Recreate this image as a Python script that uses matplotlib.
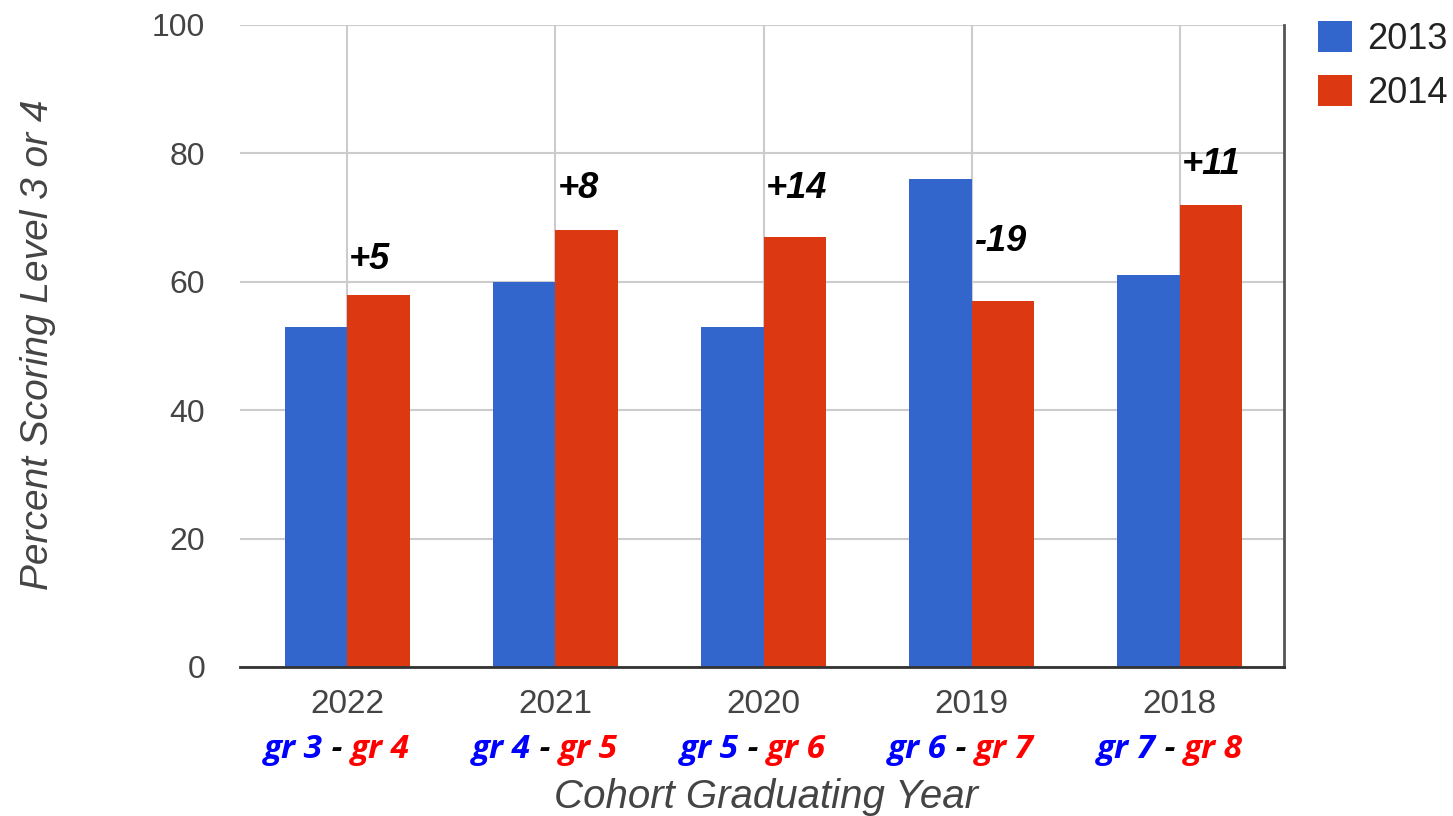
import numpy as np
import matplotlib
matplotlib.use('Agg')
from matplotlib import pyplot as plt
from matplotlib import transforms

# data
cohorts = ['2022', '2021', '2020', '2019', '2018']
grade_2013 = ['gr 3', 'gr 4', 'gr 5', 'gr 6', 'gr 7']
grade_2014 = ['gr 4', 'gr 5', 'gr 6', 'gr 7', 'gr 8']
pct_2013 = [53, 60, 53, 76, 61]
pct_2014 = [58, 68, 67, 57, 72]
changes = ['+5', '+8', '+14', '-19', '+11']

# where the change labels sit above the 2014 bar (data units)
label_lift = [5.4, 6.6, 7.6, 9.2, 6.2]

blue = '#3366CC'
red = '#DC3912'
grey = '#444444'

plt.rcParams['font.family'] = ['Liberation Sans', 'DejaVu Sans']

fig = plt.figure(figsize=(14.53, 8.16), dpi=100)
ax = fig.add_axes([240/1453, 1-667/816, (1284-240)/1453, (667-25)/816])

x = np.arange(len(cohorts))
w = 0.3
ax.bar(x - w/2, pct_2013, w, color=blue, label='2013', zorder=3)
ax.bar(x + w/2, pct_2014, w, color=red, label='2014', zorder=3)

ax.set_xlim(-0.515, 4.5)
ax.set_ylim(0, 100)
ax.set_yticks([0, 20, 40, 60, 80, 100])
ax.set_xticks(x)
ax.set_xticklabels(cohorts)
ax.tick_params(axis='both', length=0, labelsize=23, labelcolor=grey)
ax.tick_params(axis='x', labelsize=24, pad=16)
ax.tick_params(axis='y', pad=25)
ax.grid(True, color='#cccccc', lw=1.5, zorder=0)

for s in ['top', 'left']:
    ax.spines[s].set_visible(False)
ax.spines['bottom'].set_color('#333333')
ax.spines['bottom'].set_linewidth(2)
ax.spines['bottom'].set_zorder(4)
ax.spines['right'].set_color('#555555')
ax.spines['right'].set_linewidth(2)

# change labels
for i in range(len(cohorts)):
    ax.text(i + 0.01, pct_2014[i] + label_lift[i], changes[i], ha='left', va='center',
            fontsize=26, fontweight='bold', fontstyle='italic', color='black', zorder=5)

# grade labels under the years, blue and red parts
trans = transforms.blended_transform_factory(ax.transData, ax.transAxes)
gfont = dict(family='Open Sans', fontsize=24, fontweight='bold', fontstyle='italic')
for i in range(len(cohorts)):
    dash = ax.text(i - 0.05, -0.128, ' - ', transform=trans, ha='center', va='center',
                   color='black', **gfont)
    ax.annotate(grade_2013[i], xy=(0, 0), xycoords=dash, ha='right', va='bottom',
                color='#0000FF', annotation_clip=False, **gfont)
    ax.annotate(grade_2014[i], xy=(1, 0), xycoords=dash, ha='left', va='bottom',
                color='#FF0000', annotation_clip=False, **gfont)

fig.text(766/1453, 1-797/816, 'Cohort Graduating Year', ha='center', va='center',
         fontsize=29, fontstyle='italic', color=grey)
fig.text(38/1453, 1-345/816, 'Percent Scoring Level 3 or 4', ha='center', va='center',
         rotation=90, fontsize=28, fontstyle='italic', color=grey)

fig.legend(loc='upper left', bbox_to_anchor=(1318/1453, 1-21/816), frameon=False,
           fontsize=26, handlelength=0.95, handleheight=0.95, handletextpad=0.4,
           labelspacing=0.5, borderpad=0, borderaxespad=0, labelcolor='#222222')

fig.savefig('out.png', dpi=100)
